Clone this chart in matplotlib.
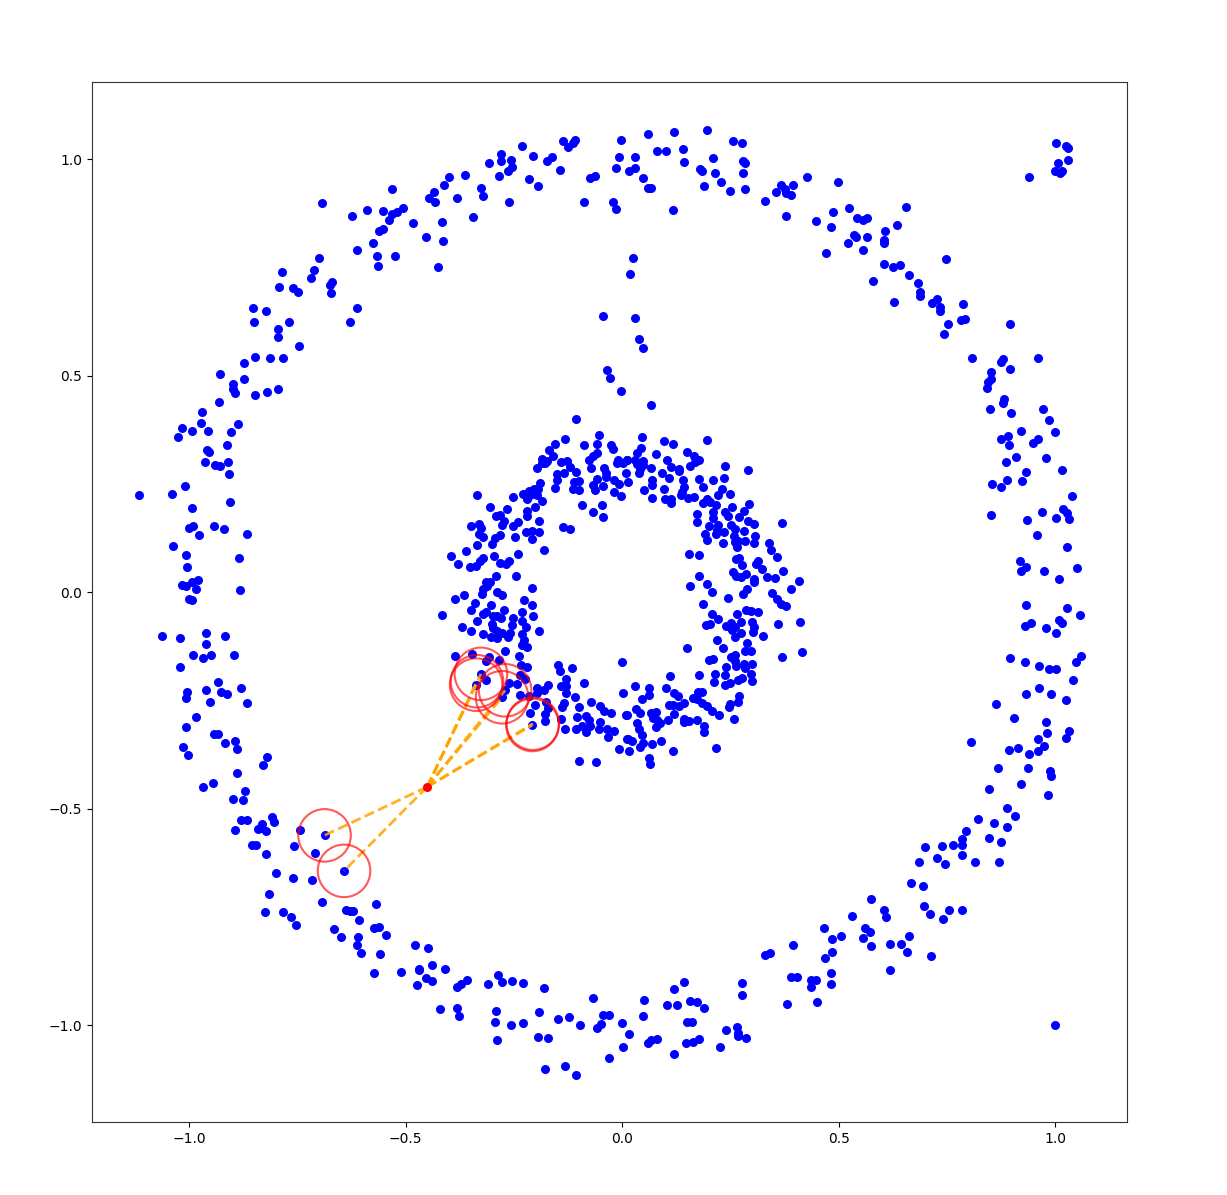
import matplotlib
matplotlib.use("Agg")
import matplotlib.pyplot as plt
from matplotlib.patches import Circle

ring_upper_left = [(-0.400,0.959),(-0.411,0.939),(-0.435,0.925),(-0.445,0.911),(-0.431,0.900),(-0.381,0.909),(-0.532,0.931),(-0.694,0.899),(-0.623,0.868),(-0.589,0.882),(-0.552,0.879),(-0.507,0.886),(-0.520,0.877),(-0.532,0.873),(-0.538,0.860),(-0.482,0.853),(-0.415,0.855),(-0.552,0.839),(-0.562,0.833),(-0.452,0.821),(-0.413,0.810),(-0.575,0.806),(-0.611,0.791),(-0.566,0.777),(-0.524,0.776),(-0.564,0.754),(-0.426,0.750),(-0.699,0.772),(-0.785,0.740),(-0.711,0.743),(-0.719,0.726),(-0.670,0.716),(-0.674,0.710),(-0.792,0.704),(-0.760,0.703),(-0.749,0.692),(-0.672,0.690),(-0.853,0.657),(-0.822,0.648),(-0.612,0.656),(-0.851,0.624),(-0.769,0.624),(-0.628,0.623),(-0.794,0.607),(-0.795,0.590),(-0.745,0.569),(-0.848,0.544),(-0.812,0.540),(-0.783,0.540),(-0.873,0.529),(-0.929,0.503),(-0.872,0.493),(-0.899,0.480),(-0.899,0.470),(-0.893,0.459),(-0.848,0.455),(-0.819,0.461),(-0.795,0.470),(-0.930,0.440),(-0.970,0.416),(-0.973,0.390),(-1.017,0.378),(-0.994,0.373),(-0.955,0.373),(-1.025,0.357),(-0.887,0.387),(-0.903,0.370),(-0.913,0.340),(-0.959,0.329),(-0.953,0.323)]

ring_left = [(-0.963,0.301),(-0.941,0.293),(-0.929,0.292),(-0.909,0.300),(-0.908,0.272),(-1.010,0.245),(-1.116,0.225),(-1.039,0.226),(-0.906,0.207),(-0.992,0.193),(-0.990,0.153),(-0.999,0.149),(-0.942,0.152),(-0.919,0.146),(-0.978,0.131),(-0.866,0.135),(-1.037,0.106),(-1.006,0.085),(-0.884,0.079),(-1.005,0.057),(-0.980,0.028),(-0.993,0.023),(-1.016,0.016),(-1.007,0.015),(-0.984,0.006),(-0.883,0.004),(-1.000,-0.017),(-0.993,-0.018),(-1.063,-0.101),(-1.021,-0.107),(-0.961,-0.095),(-0.918,-0.102),(-0.961,-0.119),(-0.990,-0.145),(-0.967,-0.152),(-0.950,-0.146),(-0.896,-0.145),(-1.021,-0.174),(-0.932,-0.208),(-0.880,-0.221),(-0.961,-0.227),(-1.005,-0.232),(-0.927,-0.232),(-0.913,-0.236),(-1.006,-0.245),(-0.951,-0.253),(-0.866,-0.256),(-0.985,-0.289),(-1.007,-0.312),(-0.942,-0.329),(-0.933,-0.327),(-0.894,-0.345),(-0.916,-0.349),(-1.013,-0.359),(-0.890,-0.363),(-1.003,-0.376),(-0.819,-0.381),(-0.830,-0.399),(-0.889,-0.418),(-0.945,-0.440),(-0.967,-0.451),(-0.870,-0.459)]

ring_lower_left = [(-0.898,-0.479),(-0.876,-0.481),(-0.809,-0.519),(-0.803,-0.532),(-0.880,-0.526),(-0.865,-0.527),(-0.831,-0.536),(-0.841,-0.547),(-0.833,-0.546),(-0.822,-0.552),(-0.893,-0.550),(-0.744,-0.549),(-0.687,-0.562),(-0.854,-0.584),(-0.845,-0.584),(-0.757,-0.587),(-0.709,-0.602),(-0.822,-0.606),(-0.642,-0.644),(-0.800,-0.649),(-0.761,-0.661),(-0.716,-0.664),(-0.816,-0.698),(-0.692,-0.716),(-0.568,-0.720),(-0.637,-0.735),(-0.629,-0.736),(-0.622,-0.737),(-0.824,-0.739),(-0.782,-0.740),(-0.765,-0.751),(-0.607,-0.757),(-0.752,-0.768),(-0.572,-0.777),(-0.562,-0.773),(-0.665,-0.778),(-0.648,-0.797),(-0.609,-0.797),(-0.545,-0.791),(-0.612,-0.815),(-0.602,-0.833),(-0.559,-0.837),(-0.479,-0.815),(-0.449,-0.823),(-0.438,-0.861),(-0.468,-0.870),(-0.408,-0.871),(-0.572,-0.880),(-0.511,-0.877),(-0.468,-0.874),(-0.453,-0.892),(-0.440,-0.898),(-0.473,-0.907),(-0.359,-0.897),(-0.372,-0.905),(-0.382,-0.913),(-0.286,-0.884),(-0.310,-0.906),(-0.277,-0.901),(-0.253,-0.899),(-0.228,-0.904),(-0.181,-0.914),(-0.420,-0.962),(-0.380,-0.961),(-0.377,-0.980),(-0.291,-0.967),(-0.294,-0.992),(-0.257,-1.000),(-0.229,-0.996),(-0.192,-0.971),(-0.149,-0.985),(-0.193,-1.028),(-0.172,-1.030),(-0.288,-1.034),(-0.178,-1.102)]

ring_bottom = [(-0.123,-0.981),(-0.097,-1.001),(-0.066,-0.938),(-0.045,-0.976),(-0.030,-0.977),(-0.049,-0.998),(-0.059,-1.008),(-0.001,-0.996),(0.016,-1.021),(0.002,-1.051),(-0.031,-1.077),(-0.131,-1.095),(-0.107,-1.115),(0.050,-0.943),(0.049,-0.980),(0.080,-1.032),(0.067,-1.035),(0.059,-1.042),(0.103,-0.953),(0.127,-0.954),(0.120,-0.917),(0.144,-0.900),(0.156,-0.944),(0.174,-0.948),(0.189,-0.961),(0.151,-0.994),(0.161,-0.993),(0.147,-1.041),(0.163,-1.039),(0.178,-1.033),(0.121,-1.068),(0.227,-1.050),(0.240,-1.011),(0.266,-1.005),(0.268,-1.018),(0.267,-1.025),(0.286,-1.031),(0.277,-0.904),(0.277,-0.930),(0.330,-0.838),(0.342,-0.833),(0.394,-0.816),(0.390,-0.890),(0.405,-0.888),(0.437,-0.896),(0.447,-0.895),(0.436,-0.913),(0.382,-0.952),(0.451,-0.946),(0.482,-0.881),(0.482,-0.906),(0.468,-0.845),(0.485,-0.831),(0.466,-0.775),(0.484,-0.801),(0.505,-0.794),(0.530,-0.748),(0.575,-0.710),(0.604,-0.734),(0.610,-0.750),(0.562,-0.775),(0.572,-0.785),(0.556,-0.800),(0.576,-0.817),(0.618,-0.813),(0.618,-0.874)]

ring_lower_right = [(0.645,-0.814),(0.662,-0.794),(0.658,-0.832),(0.714,-0.840),(0.698,-0.725),(0.711,-0.743),(0.740,-0.755),(0.756,-0.735),(0.785,-0.735),(0.667,-0.673),(0.695,-0.678),(0.686,-0.624),(0.699,-0.589),(0.728,-0.615),(0.745,-0.628),(0.739,-0.586),(0.764,-0.584),(0.784,-0.570),(0.785,-0.585),(0.785,-0.608),(0.795,-0.551),(0.816,-0.624),(0.871,-0.624),(0.823,-0.524),(0.848,-0.568),(0.876,-0.577),(0.858,-0.534),(0.889,-0.543),(0.888,-0.498),(0.908,-0.518),(0.847,-0.455),(0.868,-0.407),(0.806,-0.346),(0.893,-0.365),(0.915,-0.360),(0.921,-0.443)]

ring_right = [(0.886,0.300),(0.909,0.311),(0.980,0.310),(1.016,0.281),(0.932,0.277),(0.889,0.259),(0.923,0.256),(0.855,0.249),(0.876,0.243),(1.040,0.221),(0.853,0.178),(0.969,0.184),(1.019,0.192),(1.028,0.182),(1.003,0.172),(1.032,0.169),(0.936,0.166),(0.959,0.132),(1.027,0.105),(0.919,0.072),(0.932,0.057),(0.922,0.049),(0.975,0.048),(1.050,0.056),(1.009,0.029),(0.932,-0.030),(1.028,-0.037),(1.058,-0.053),(0.945,-0.071),(0.931,-0.078),(1.010,-0.065),(1.016,-0.072),(0.978,-0.082),(1.002,-0.095),(0.896,-0.153),(0.931,-0.162),(0.963,-0.171),(0.986,-0.178),(1.002,-0.178),(1.048,-0.161),(1.059,-0.148),(1.041,-0.202),(0.963,-0.222),(0.932,-0.236),(0.990,-0.235),(1.026,-0.250),(0.863,-0.259),(0.904,-0.291),(0.979,-0.300),(0.981,-0.325),(1.032,-0.322),(1.026,-0.338),(0.961,-0.340),(0.974,-0.356),(0.960,-0.366),(0.939,-0.374),(0.937,-0.406),(0.989,-0.413),(0.991,-0.424),(0.984,-0.468)]

ring_upper_right = [(0.428,0.959),(0.498,0.947),(0.395,0.941),(0.367,0.940),(0.356,0.924),(0.377,0.930),(0.379,0.922),(0.390,0.918),(0.378,0.869),(0.524,0.888),(0.655,0.889),(0.488,0.878),(0.447,0.858),(0.542,0.864),(0.557,0.860),(0.566,0.864),(0.482,0.842),(0.635,0.848),(0.608,0.833),(0.535,0.824),(0.541,0.819),(0.565,0.821),(0.521,0.807),(0.605,0.814),(0.605,0.807),(0.556,0.791),(0.470,0.784),(0.749,0.770),(0.606,0.757),(0.626,0.751),(0.641,0.755),(0.663,0.732),(0.579,0.718),(0.683,0.714),(0.687,0.692),(0.688,0.684),(0.628,0.671),(0.728,0.677),(0.715,0.667),(0.735,0.658),(0.734,0.650),(0.787,0.665),(0.782,0.629),(0.793,0.630),(0.752,0.618),(0.744,0.597),(0.896,0.618),(0.808,0.540),(0.960,0.541),(0.879,0.538),(0.875,0.532),(0.896,0.514),(0.851,0.509),(0.852,0.491),(0.845,0.486),(0.843,0.472),(0.883,0.446),(0.879,0.436),(0.850,0.423),(0.899,0.413),(0.971,0.423),(0.987,0.397),(0.922,0.373),(1.000,0.369),(0.892,0.360),(0.875,0.353),(0.893,0.339),(0.961,0.354),(0.949,0.345)]

ring_top = [(-0.362,0.964),(-0.325,0.934),(-0.322,0.915),(-0.345,0.867),(-0.308,0.992),(-0.284,0.962),(-0.279,1.012),(-0.280,0.995),(-0.256,0.998),(-0.253,0.982),(-0.264,0.973),(-0.262,0.901),(-0.231,1.030),(-0.205,1.006),(-0.215,0.954),(-0.193,0.937),(-0.174,0.995),(-0.161,1.004),(-0.143,0.975),(-0.136,1.041),(-0.124,1.028),(-0.114,1.036),(-0.109,1.044),(-0.089,0.901),(-0.073,0.956),(-0.062,0.960),(-0.003,1.044),(-0.008,1.005),(0.030,1.004),(-0.014,0.979),(0.016,0.973),(0.031,0.979),(0.049,0.957),(-0.020,0.900),(-0.014,0.884),(0.060,0.934),(0.066,0.934),(0.061,1.059),(0.080,1.018),(0.101,1.018),(0.120,1.063),(0.140,1.024),(0.142,0.994),(0.118,0.882),(0.195,1.068),(0.180,0.977),(0.184,0.972),(0.210,1.002),(0.215,0.968),(0.228,0.946),(0.190,0.937),(0.250,0.926),(0.283,0.932),(0.257,1.041),(0.277,1.038),(0.280,0.996),(0.284,0.990),(0.280,0.968),(0.330,0.903)]

spoke = [(0.026,0.772),(0.019,0.734),(-0.044,0.637),(0.029,0.634),(0.040,0.585),(0.048,0.563),(-0.034,0.513),(-0.029,0.494),(-0.002,0.464),(0.067,0.432),(-0.106,0.400)]

corner_top = [(1.003,1.036),(1.025,1.031),(1.030,1.025),(1.029,0.998),(1.006,0.991),(1.000,0.973),(1.017,0.973),(1.011,0.968),(0.939,0.959)]
corner_bottom = [(1.0,-1.0)]

inner_upper_left = [(-0.053,0.362),(-0.131,0.353),(-0.154,0.341),(-0.087,0.340),(-0.057,0.343),(-0.025,0.339),(-0.020,0.330),(-0.169,0.328),(-0.160,0.315),(-0.058,0.322),(-0.067,0.314),(-0.077,0.306),(-0.184,0.308),(-0.174,0.303),(-0.186,0.298),(-0.177,0.297),(-0.196,0.287),(-0.140,0.301),(-0.127,0.302),(-0.071,0.286),(-0.010,0.305),(0.011,0.306),(-0.012,0.297),(0.002,0.297),(-0.121,0.288),(-0.107,0.278),(-0.041,0.286),(-0.135,0.274),(-0.150,0.272),(-0.037,0.274),(0.008,0.275),(-0.037,0.265),(-0.150,0.258),(-0.100,0.257),(-0.112,0.253),(-0.057,0.260),(-0.019,0.258),(-0.008,0.250),(0.013,0.254),(-0.190,0.252),(-0.066,0.248),(-0.043,0.246),(-0.154,0.241),(-0.114,0.238),(-0.100,0.235),(-0.062,0.235),(-0.019,0.231),(-0.002,0.221),(-0.204,0.237),(-0.193,0.237),(-0.215,0.234),(-0.229,0.226),(-0.212,0.223),(-0.197,0.223),(-0.220,0.214),(-0.184,0.210),(-0.252,0.220),(-0.334,0.223),(-0.092,0.201),(-0.047,0.200),(-0.066,0.185),(-0.043,0.173),(-0.200,0.196),(-0.306,0.196),(-0.266,0.191),(-0.220,0.188),(-0.220,0.175),(-0.292,0.175),(-0.281,0.178),(-0.272,0.164),(-0.278,0.155),(-0.240,0.161),(-0.251,0.152),(-0.191,0.164),(-0.348,0.153),(-0.331,0.158),(-0.326,0.148),(-0.137,0.150),(-0.120,0.145),(-0.221,0.138),(-0.208,0.140),(-0.191,0.138),(-0.331,0.135),(-0.321,0.128),(-0.283,0.131),(-0.294,0.124),(-0.247,0.126),(-0.207,0.123),(-0.300,0.110),(-0.336,0.109),(-0.180,0.098),(-0.361,0.094),(-0.395,0.083),(-0.295,0.084),(-0.240,0.087),(-0.320,0.078),(-0.329,0.071),(-0.378,0.064),(-0.351,0.058),(-0.338,0.061),(-0.281,0.068),(-0.261,0.071),(-0.269,0.064),(-0.292,0.037),(-0.244,0.036),(-0.306,0.023),(-0.314,0.024),(-0.320,0.008),(-0.207,0.009),(-0.312,0.014),(-0.324,-0.005),(-0.288,0.001),(-0.277,-0.007),(-0.364,-0.006),(-0.385,-0.017),(-0.227,-0.018),(-0.340,-0.026),(-0.302,-0.031),(-0.209,-0.031),(-0.348,-0.041),(-0.272,-0.041),(-0.315,-0.045),(-0.321,-0.050),(-0.231,-0.046),(-0.415,-0.053),(-0.297,-0.056),(-0.289,-0.056),(-0.206,-0.055),(-0.251,-0.059),(-0.279,-0.060)]

inner_lower_left = [(-0.334,-0.068),(-0.253,-0.076),(-0.231,-0.068),(-0.222,-0.080),(-0.301,-0.073),(-0.369,-0.080),(-0.349,-0.089),(-0.192,-0.089),(-0.299,-0.083),(-0.289,-0.091),(-0.322,-0.097),(-0.277,-0.095),(-0.258,-0.095),(-0.303,-0.104),(-0.289,-0.105),(-0.264,-0.104),(-0.230,-0.098),(-0.226,-0.110),(-0.231,-0.122),(-0.220,-0.128),(-0.271,-0.137),(-0.239,-0.147),(-0.385,-0.147),(-0.347,-0.143),(-0.308,-0.149),(-0.314,-0.160),(-0.284,-0.158),(-0.234,-0.168),(-0.220,-0.172),(-0.149,-0.169),(-0.144,-0.182),(-0.115,-0.176),(-0.001,-0.162),(-0.326,-0.189),(-0.235,-0.191),(-0.224,-0.201),(-0.130,-0.201),(-0.314,-0.204),(-0.337,-0.214),(-0.087,-0.210),(-0.262,-0.210),(-0.243,-0.212),(-0.172,-0.214),(-0.141,-0.218),(-0.129,-0.217),(-0.270,-0.227),(-0.197,-0.222),(-0.181,-0.227),(-0.197,-0.234),(0.002,-0.233),(-0.130,-0.234),(-0.236,-0.237),(-0.277,-0.243),(-0.215,-0.241),(-0.109,-0.243),(-0.175,-0.253),(-0.072,-0.254),(-0.133,-0.257),(-0.201,-0.260),(-0.050,-0.264),(-0.100,-0.265),(-0.139,-0.266),(-0.170,-0.268),(-0.041,-0.274),(-0.212,-0.280),(-0.177,-0.282),(-0.025,-0.280),(0.010,-0.285),(-0.083,-0.286),(-0.105,-0.289),(-0.077,-0.295),(-0.142,-0.294),(-0.177,-0.298),(-0.050,-0.301),(-0.207,-0.307),(-0.093,-0.309),(-0.075,-0.309),(-0.132,-0.316),(-0.106,-0.316),(-0.054,-0.316),(-0.035,-0.316),(-0.018,-0.320),(-0.084,-0.323),(-0.033,-0.335),(0.013,-0.339),(-0.006,-0.363),(0.015,-0.366),(-0.100,-0.391),(-0.060,-0.393)]

inner_upper_right = [(0.047,0.358),(0.096,0.349),(0.117,0.342),(0.197,0.352),(0.044,0.332),(0.035,0.320),(0.078,0.318),(0.151,0.323),(0.166,0.315),(0.177,0.306),(0.168,0.301),(0.157,0.291),(0.104,0.305),(0.238,0.290),(0.290,0.281),(0.012,0.306),(0.030,0.305),(0.049,0.303),(0.034,0.295),(0.049,0.293),(0.041,0.285),(0.066,0.287),(0.112,0.289),(0.132,0.285),(0.132,0.279),(0.093,0.276),(0.040,0.275),(0.109,0.263),(0.177,0.260),(0.211,0.258),(0.236,0.263),(0.070,0.258),(0.141,0.258),(0.070,0.247),(0.187,0.243),(0.143,0.243),(0.231,0.237),(0.050,0.236),(0.097,0.238),(0.138,0.231),(0.250,0.227),(0.221,0.225),(0.136,0.223),(0.153,0.218),(0.166,0.220),(0.069,0.217),(0.100,0.214),(0.113,0.214),(0.114,0.205),(0.197,0.215),(0.187,0.205),(0.204,0.209),(0.216,0.201),(0.294,0.203),(0.254,0.197),(0.281,0.188),(0.173,0.181),(0.210,0.184),(0.238,0.184),(0.245,0.176),(0.270,0.174),(0.210,0.171),(0.173,0.161),(0.291,0.165),(0.305,0.156),(0.370,0.160),(0.201,0.153),(0.221,0.155),(0.251,0.155),(0.261,0.145),(0.281,0.140),(0.236,0.138),(0.219,0.144),(0.192,0.135),(0.216,0.133),(0.259,0.130),(0.307,0.130),(0.197,0.121),(0.268,0.118),(0.285,0.118),(0.305,0.114),(0.234,0.113),(0.261,0.116),(0.266,0.104),(0.339,0.114),(0.343,0.096),(0.155,0.088),(0.178,0.086),(0.358,0.081),(0.262,0.077),(0.269,0.078),(0.278,0.062),(0.314,0.071),(0.309,0.065),(0.324,0.054),(0.371,0.049),(0.256,0.046),(0.263,0.038),(0.286,0.042),(0.178,0.037),(0.274,0.034),(0.334,0.035),(0.353,0.032),(0.305,0.029),(0.305,0.024),(0.408,0.026),(0.197,0.019),(0.156,0.014),(0.288,0.008),(0.391,0.007),(0.207,0.001),(0.279,-0.005),(0.346,-0.003),(0.244,-0.013),(0.358,-0.015),(0.186,-0.028),(0.368,-0.028),(0.378,-0.033),(0.286,-0.041),(0.298,-0.044),(0.315,-0.047),(0.207,-0.050),(0.266,-0.051),(0.221,-0.063)]

inner_lower_right = [(0.193,-0.076),(0.204,-0.074),(0.241,-0.078),(0.251,-0.072),(0.261,-0.080),(0.274,-0.070),(0.301,-0.069),(0.305,-0.080),(0.361,-0.074),(0.412,-0.070),(0.253,-0.087),(0.274,-0.095),(0.303,-0.093),(0.326,-0.101),(0.261,-0.104),(0.220,-0.110),(0.289,-0.118),(0.234,-0.129),(0.151,-0.130),(0.285,-0.136),(0.297,-0.136),(0.416,-0.139),(0.370,-0.151),(0.251,-0.149),(0.261,-0.145),(0.201,-0.157),(0.211,-0.155),(0.261,-0.160),(0.262,-0.170),(0.281,-0.166),(0.301,-0.166),(0.284,-0.176),(0.241,-0.173),(0.214,-0.189),(0.238,-0.192),(0.177,-0.191),(0.110,-0.194),(0.298,-0.190),(0.299,-0.205),(0.278,-0.198),(0.268,-0.203),(0.213,-0.207),(0.238,-0.214),(0.250,-0.211),(0.030,-0.217),(0.062,-0.222),(0.101,-0.221),(0.121,-0.234),(0.130,-0.241),(0.176,-0.232),(0.184,-0.231),(0.063,-0.237),(0.046,-0.246),(0.164,-0.244),(0.174,-0.247),(0.269,-0.241),(0.267,-0.253),(0.144,-0.256),(0.185,-0.257),(0.197,-0.263),(0.109,-0.261),(0.118,-0.262),(0.131,-0.264),(0.250,-0.259),(0.247,-0.265),(0.033,-0.270),(0.041,-0.280),(0.208,-0.275),(0.078,-0.278),(0.066,-0.280),(0.120,-0.281),(0.223,-0.284),(0.012,-0.285),(0.072,-0.291),(0.258,-0.293),(0.105,-0.295),(0.080,-0.295),(0.144,-0.293),(0.143,-0.301),(0.154,-0.297),(0.172,-0.295),(0.035,-0.303),(0.087,-0.303),(0.078,-0.311),(0.189,-0.309),(0.039,-0.316),(0.189,-0.324),(0.045,-0.330),(0.012,-0.339),(0.023,-0.344),(0.089,-0.343),(0.069,-0.351),(0.049,-0.349),(0.041,-0.358),(0.217,-0.361),(0.117,-0.367),(0.062,-0.383),(0.064,-0.397)]

query_point = (-0.450, -0.450)
neighbours = [(-0.687,-0.562),(-0.642,-0.644),(-0.207,-0.307),(-0.206,-0.304),(-0.277,-0.243),(-0.270,-0.227),(-0.326,-0.189),(-0.337,-0.214),(-0.335,-0.206)]
x_ticks = [-1.0, -0.5, 0.0, 0.5, 1.0]
y_ticks = [-1.0, -0.5, 0.0, 0.5, 1.0]

clusters = [ring_upper_left, ring_left, ring_lower_left, ring_bottom, ring_lower_right,
            ring_right, ring_upper_right, ring_top, spoke, corner_top, corner_bottom,
            inner_upper_left, inner_lower_left, inner_upper_right, inner_lower_right]

fig = plt.figure(figsize=(12.27, 11.95), dpi=100)
ax = fig.add_axes([92/1227, 1-1122/1195, (1127-92)/1227, (1122-82)/1195])

for cluster in clusters:
    xs, ys = zip(*cluster)
    ax.scatter(xs, ys, c="blue", s=30, zorder=2)

for nx, ny in neighbours:
    ax.plot([query_point[0], nx], [query_point[1], ny], "--", color="orange", lw=2, alpha=0.85, zorder=3)
    ax.add_patch(Circle((nx, ny), 0.0607, fill=False, edgecolor="red", lw=1.5, alpha=0.65, zorder=4))
ax.scatter([query_point[0]], [query_point[1]], c="red", s=30, zorder=5)

ax.set_xlim(-1.224, 1.166)
ax.set_ylim(-1.224, 1.178)
ax.set_xticks(x_ticks)
ax.set_yticks(y_ticks)
for s in ax.spines.values():
    s.set_color("#333333")
fig.savefig("out.png", dpi=100)
